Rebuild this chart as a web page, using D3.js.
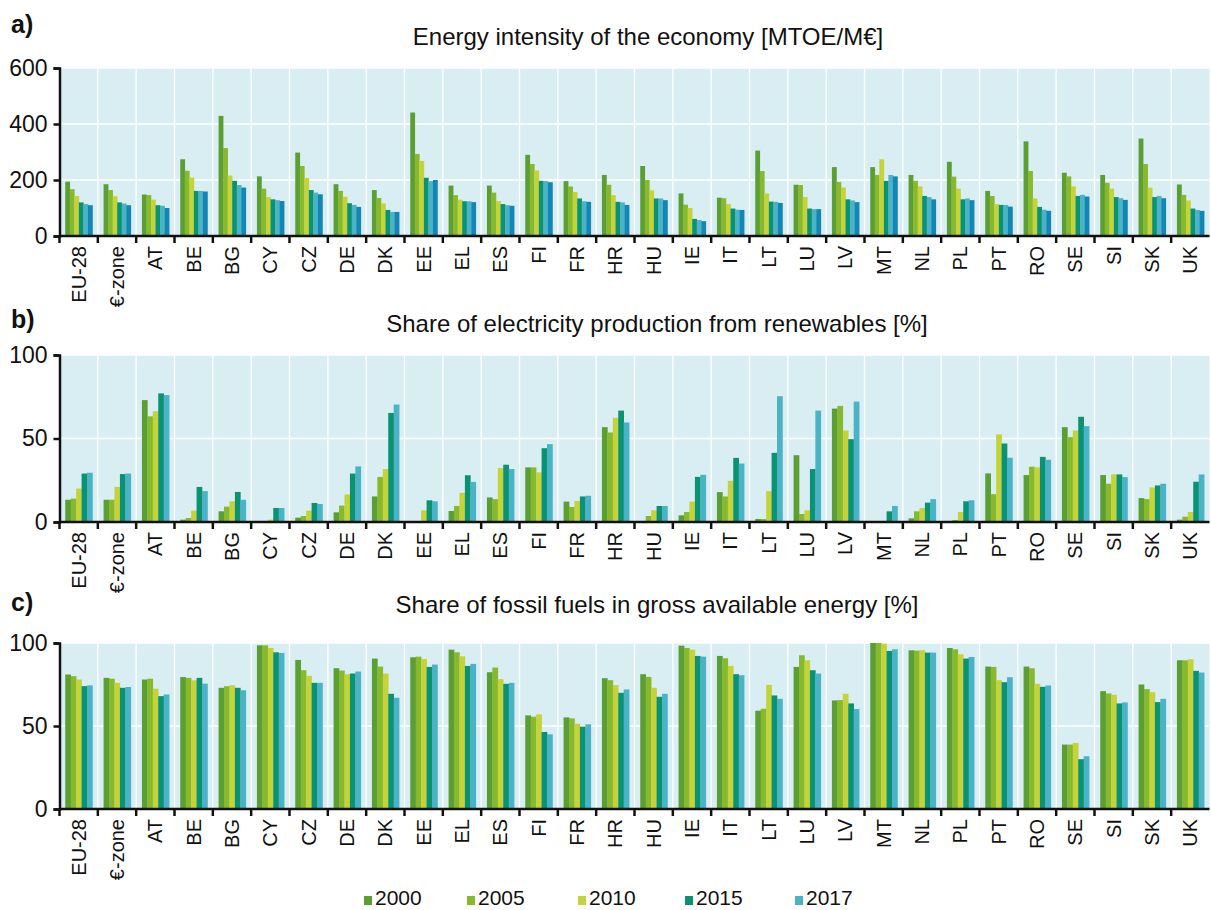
<!DOCTYPE html>
<html>
<head>
<meta charset="utf-8">
<script src="https://cdn.jsdelivr.net/npm/d3@7"></script>
<style>
  html, body { margin: 0; padding: 0; background: #ffffff; }
  svg { display: block; font-family: "Liberation Sans", Arial, sans-serif; }
</style>
</head>
<body>
<svg id="chart" width="1211" height="910"></svg>
<script>
// Countries and aggregates shown along every x axis
const countries = ["EU-28","€-zone","AT","BE","BG","CY","CZ","DE","DK","EE","EL","ES","FI","FR","HR","HU","IE","IT","LT","LU","LV","MT","NL","PL","PT","RO","SE","SI","SK","UK"];

const years = ["2000","2005","2010","2015","2017"];

// a) Energy intensity of the economy [MTOE/M€]
const intensity2000 = [194,185,148,274,429,213,298,185,164,441,180,180,290,196,218,250,152,137,305,183,246,246,218,265,161,338,226,218,348,184];
const intensity2005 = [167,164,146,233,314,169,250,161,136,293,146,155,257,177,183,200,112,135,232,182,193,218,197,212,143,232,213,190,257,147];
const intensity2010 = [143,142,130,209,216,139,207,140,116,268,130,125,234,157,146,163,100,114,152,139,173,274,177,169,114,134,177,169,173,127];
const intensity2015 = [120,120,110,161,197,131,164,117,93,208,124,114,197,134,122,134,61,98,123,98,131,197,143,131,111,104,143,139,139,98];
const intensity2017 = [114,116,108,161,182,128,155,111,86,196,124,110,196,124,120,134,57,94,122,96,127,218,139,134,111,94,147,135,143,93];
// darker blue sixth bar drawn in panel a only
const intensityLatest = [110,110,100,159,173,125,149,104,86,200,121,108,192,122,111,128,53,93,118,96,121,213,131,128,105,90,141,129,135,90];

// b) Share of electricity production from renewables [%]
const renew2000 = [13.3,13.3,73,1.4,6.4,0,2.6,5.8,15.3,0,6.6,14.7,32.7,12.2,56.8,0,4,17.9,1.8,40,67.9,0,2.2,0.4,29.1,28.1,56.8,28.1,14.3,1.4];
const renew2005 = [14,13.3,63.3,2.4,9.2,0,3.6,9.8,27,0,9.6,13.7,32.7,9,53.6,3.6,6,15.3,1.8,4.8,69.5,0,6.4,1.2,16.7,33.1,50.8,22.9,13.7,3.2];
const renew2010 = [20,21,66.3,6.8,12.4,1.4,6.8,16.5,31.7,7,17.5,32.3,29.7,12.6,62.4,7,12.2,24.7,18.5,7,54.8,0,8.4,6,52.4,32.7,54.8,28.5,20.7,6];
const renew2015 = [29,28.7,77,21,18,8.4,11.4,29,65.3,13,28,34.3,44.2,15.3,66.7,9.6,27,38.4,41.4,31.7,49.6,6.4,11.6,12.4,47,39,63,28.5,21.9,24.1];
const renew2017 = [29.5,29,76,18.5,13.3,8.4,10.8,33.3,70.3,12.4,24,31.7,46.6,15.7,59.6,9.6,28.3,35,75.3,66.7,72.1,9.6,13.7,13,38.5,37.3,57.4,26.9,22.9,28.5];

// c) Share of fossil fuels in gross available energy [%]
const fossil2000 = [81,79,78,79.5,73,98.6,89.8,84.8,90.6,91.4,96,82.4,56.4,55.2,78.8,81.2,98.4,92.2,59.2,85.6,65.4,100,95.6,97,85.8,85.8,38.8,71,75,89.6];
const fossil2005 = [80,78.5,78.5,79,74,98.6,83.6,83.4,85.8,91.8,94.4,85.2,55.6,54.6,77.6,79.6,97,90.8,60.4,92.6,65.6,100,95.4,96.2,85.6,84.8,38.8,69.6,72.2,89.6];
const fossil2010 = [78,76,72.5,77.5,74.5,97,80.2,81.2,81.6,90.4,92,78.2,57,51.4,74.6,73,96,86.2,74.8,89.6,69.4,99.6,95.6,93.2,77.6,75.4,39.8,68.8,70.4,90.2];
const fossil2015 = [74,73,68,79,73,94.4,76,81.6,69.4,85.6,86.2,75.4,46.4,49.6,70,67.6,92.2,81.2,68.4,83.6,63.6,95.2,94.2,90.6,76.4,73.6,30,63.6,64.4,83.2];
const fossil2017 = [74.5,73.5,69,75.5,71.5,94,76,82.8,67,87,87.4,76,45,51,72,69.4,91.8,80.6,66.4,81.6,60.2,96.2,94.2,91.6,79.4,74.4,31.8,64.2,66.4,82.2];

const intensityTicks = [0,200,400,600];
const shareTicks = [0,50,100];

const seriesColors = ["#5a9e34","#86b92e","#c5d33a","#0a9272","#4ab3c6","#1386b5"];
const plotBg = "#d9eef2";

const svg = d3.select("#chart");
const left = 59.5, right = 1209.5;

const x = d3.scaleBand().domain(countries).range([left, right]).padding(0);

function panel(cfg) {
  const g = svg.append("g");
  const y = d3.scaleLinear().domain([0, cfg.max]).range([cfg.bottom, cfg.top]);

  // panel letter and title
  g.append("text").attr("x", 11).attr("y", cfg.letterY)
    .attr("font-size", 25).attr("font-weight", "bold").attr("fill", "#111")
    .text(cfg.letter);
  g.append("text").attr("x", cfg.titleX).attr("y", cfg.titleY)
    .attr("text-anchor", "middle").attr("font-size", 24).attr("fill", "#111")
    .text(cfg.title);

  // plot background
  g.append("rect").attr("x", left).attr("y", cfg.top)
    .attr("width", right - left).attr("height", cfg.bottom - cfg.top)
    .attr("fill", plotBg);

  // white gridlines
  g.append("g").selectAll("line").data(cfg.ticks.filter(t => t > 0)).join("line")
    .attr("x1", left).attr("x2", right)
    .attr("y1", d => y(d)).attr("y2", d => y(d))
    .attr("stroke", "#ffffff").attr("stroke-width", 1.3);
  g.append("g").selectAll("line").data(countries.slice(1)).join("line")
    .attr("x1", d => x(d)).attr("x2", d => x(d))
    .attr("y1", cfg.top).attr("y2", cfg.bottom)
    .attr("stroke", "#ffffff").attr("stroke-width", 1.3);

  // grouped bars
  const keys = cfg.series.map((s, i) => i);
  const bw = x.bandwidth();
  const x1 = d3.scaleBand().domain(keys).range([bw * 0.15, bw * 0.86]).padding(0);
  const grp = g.append("g").selectAll("g").data(countries).join("g")
    .attr("transform", d => `translate(${x(d)},0)`);
  grp.selectAll("rect").data((c, ci) => cfg.series.map((s, si) => ({ si, v: s[ci] }))).join("rect")
    .attr("x", d => x1(d.si))
    .attr("width", x1.bandwidth() + 0.3)
    .attr("y", d => y(d.v))
    .attr("height", d => y(0) - y(d.v))
    .attr("fill", d => seriesColors[d.si]);

  // y axis
  const yAxis = d3.axisLeft(y).tickValues(cfg.ticks).tickSize(6).tickPadding(6);
  const ya = g.append("g").attr("transform", `translate(${left},0)`).call(yAxis);
  ya.select(".domain").attr("stroke", "#111").attr("stroke-width", 2.5);
  ya.selectAll(".tick line").attr("stroke", "#111").attr("stroke-width", 2.5);
  ya.selectAll(".tick text").attr("font-size", 23).attr("fill", "#111")
    .attr("font-family", "Liberation Sans, Arial, sans-serif");

  // x axis: ticks at category boundaries
  const xa = g.append("g").attr("transform", `translate(0,${cfg.bottom})`);
  xa.append("line").attr("x1", left).attr("x2", right).attr("y1", 0).attr("y2", 0)
    .attr("stroke", "#111").attr("stroke-width", 2.5);
  xa.selectAll("line.tk").data(countries).join("line").attr("class", "tk")
    .attr("x1", d => x(d)).attr("x2", d => x(d)).attr("y1", 0).attr("y2", 7)
    .attr("stroke", "#111").attr("stroke-width", 2.5);
  xa.selectAll("text").data(countries).join("text")
    .attr("transform", d => `translate(${x(d) + bw / 2 + 7},10) rotate(-90)`)
    .attr("text-anchor", "end").attr("font-size", 20).attr("fill", "#111")
    .text(d => d);
}

panel({
  letter: "a)", letterY: 33, title: "Energy intensity of the economy [MTOE/M€]",
  titleX: 648, titleY: 45, top: 68, bottom: 236, max: 600, ticks: intensityTicks,
  series: [intensity2000, intensity2005, intensity2010, intensity2015, intensity2017, intensityLatest]
});
panel({
  letter: "b)", letterY: 328, title: "Share of electricity production from renewables [%]",
  titleX: 657, titleY: 332, top: 355, bottom: 522, max: 100, ticks: shareTicks,
  series: [renew2000, renew2005, renew2010, renew2015, renew2017]
});
panel({
  letter: "c)", letterY: 611, title: "Share of fossil fuels in gross available energy [%]",
  titleX: 657, titleY: 613, top: 643, bottom: 809, max: 100, ticks: shareTicks,
  series: [fossil2000, fossil2005, fossil2010, fossil2015, fossil2017]
});

// legend
const legendX = [364, 467, 578, 685, 795];
const lg = svg.append("g").selectAll("g").data(years).join("g")
  .attr("transform", (d, i) => `translate(${legendX[i]},0)`);
lg.append("rect").attr("x", 0).attr("y", 896).attr("width", 8).attr("height", 9)
  .attr("fill", (d, i) => seriesColors[i]);
lg.append("text").attr("x", 11).attr("y", 905).attr("font-size", 21).attr("fill", "#111")
  .text(d => d);
</script>
</body>
</html>
